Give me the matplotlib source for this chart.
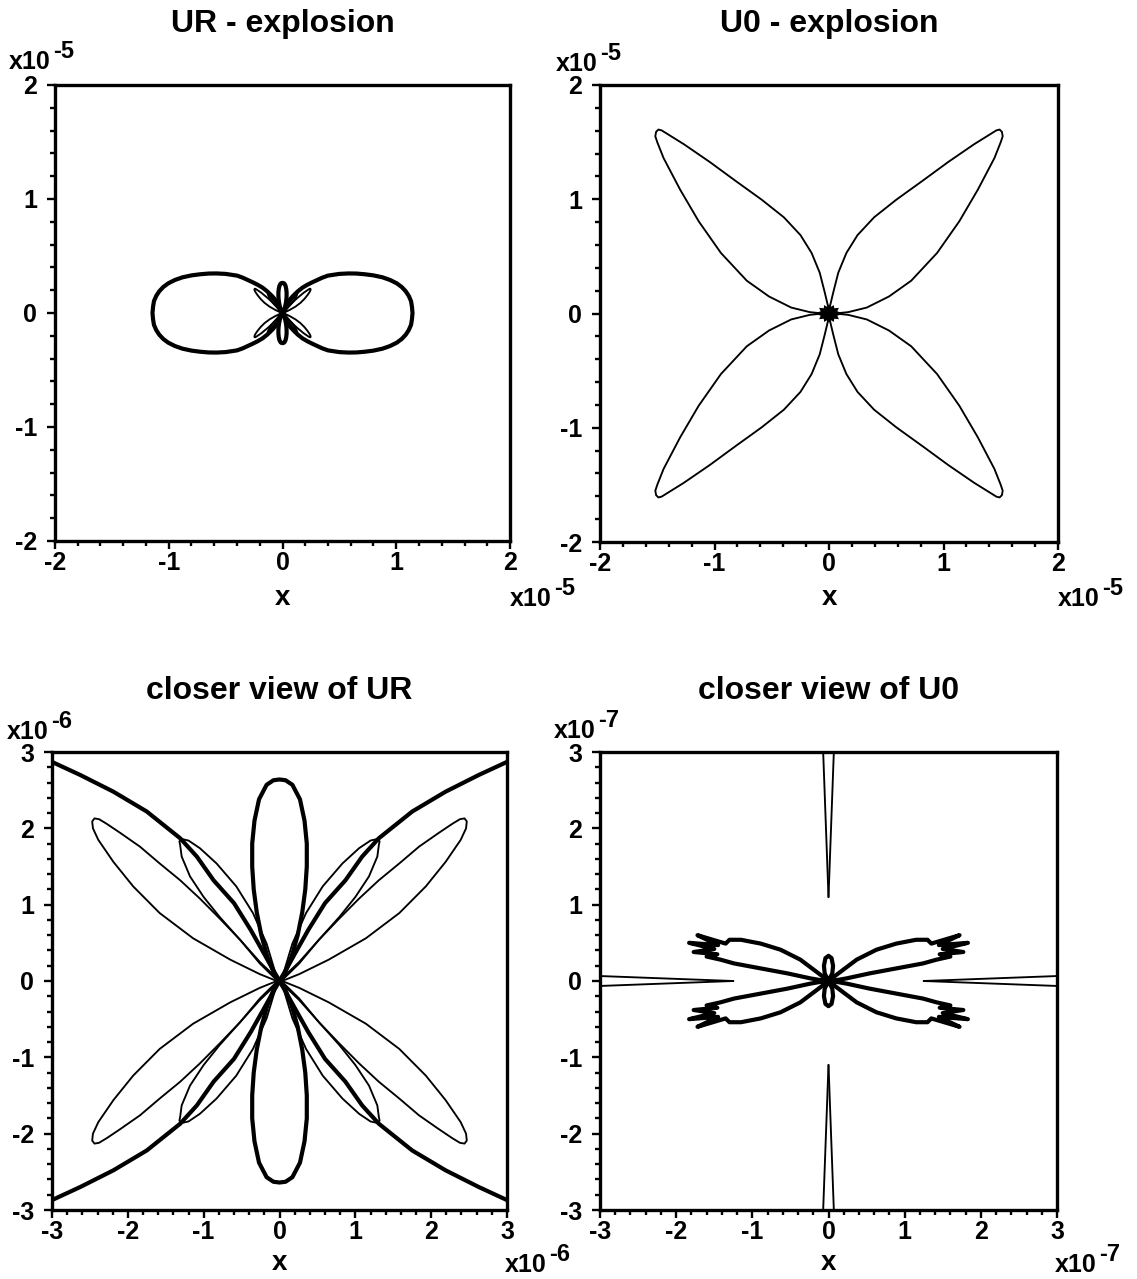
import numpy as np
import matplotlib
matplotlib.use("Agg")
import matplotlib.pyplot as plt
from matplotlib.ticker import MultipleLocator, FuncFormatter

plt.rcParams["font.family"] = ["Liberation Sans", "DejaVu Sans"]
plt.rcParams["font.weight"] = "bold"
plt.rcParams["axes.unicode_minus"] = False

FIG_W, FIG_H = 1137, 1279

# ---------------- UR component (units of 1e-6) ----------------
# thick curve: large lobe on the x axis, upper edge from the tip back to the source
ur_main_x = [11.43, 11.38, 11.30, 11.10, 10.83, 10.48, 10.05, 9.45, 8.79, 8.00,
             7.22, 6.50, 5.81, 5.00, 4.00, 3.50, 3.00, 2.63, 2.19, 1.75,
             1.31, 1.09, 0.87, 0.60, 0.38, 0.21, 0.07, 0.00]
ur_main_y = [0.00, 0.55, 1.04, 1.50, 1.91, 2.28, 2.60, 2.90, 3.13, 3.30,
             3.40, 3.46, 3.47, 3.43, 3.28, 3.10, 2.87, 2.70, 2.48, 2.22,
             1.87, 1.63, 1.32, 1.02, 0.67, 0.37, 0.12, 0.00]
# thick curve: small lobe on the y axis, right edge from the tip back to the source
ur_vert_x = [0.00, 0.08, 0.17, 0.27, 0.33, 0.36, 0.36, 0.34, 0.30, 0.24, 0.16, 0.07, 0.00]
ur_vert_y = [2.64, 2.63, 2.57, 2.38, 2.10, 1.80, 1.50, 1.20, 0.90, 0.60, 0.32, 0.10, 0.00]
# thin curve: lobe near 42 deg (first quadrant, source -> tip -> source)
ur_wide_x = [0.00, 0.06, 0.26, 0.52, 0.79, 1.05, 1.31, 1.58, 1.84, 2.10, 2.28, 2.38,
             2.44, 2.47, 2.46, 2.39, 2.19, 1.93, 1.58, 1.14, 0.65, 0.26, 0.06, 0.00]
ur_wide_y = [0.00, 0.06, 0.25, 0.54, 0.82, 1.08, 1.32, 1.54, 1.76, 1.94, 2.06, 2.12,
             2.13, 2.09, 2.00, 1.85, 1.56, 1.24, 0.89, 0.56, 0.28, 0.09, 0.01, 0.00]
# thin curve: narrow lobe near 55 deg (first quadrant, source -> tip -> source)
ur_narrow_x = [0.00, 0.04, 0.17, 0.35, 0.57, 0.83, 1.05, 1.20, 1.29, 1.32, 1.31,
               1.29, 1.18, 1.00, 0.79, 0.52, 0.26, 0.06, 0.00]
ur_narrow_y = [0.00, 0.06, 0.49, 0.89, 1.24, 1.54, 1.74, 1.84, 1.86, 1.83, 1.78,
               1.63, 1.37, 1.10, 0.84, 0.54, 0.23, 0.035, 0.00]

# ---------------- U0 component ----------------
# thin curve: diagonal lobe, units of 1e-5, from the cusp on the x axis,
# along the lower edge to the tip and back along the upper edge to the cusp on the y axis
u0_lobe_x = [0.0125, 0.030, 0.071, 0.168, 0.330, 0.524, 0.718, 0.944, 1.138, 1.300,
             1.445, 1.500, 1.517, 1.510, 1.490, 1.462, 1.268, 1.041, 0.815, 0.589,
             0.394, 0.249, 0.152, 0.081, 0.037, 0.008, 0.0007, 0.0]
u0_lobe_y = [0.0, 0.00065, 0.002, 0.012, 0.052, 0.149, 0.287, 0.530, 0.807, 1.084,
             1.361, 1.500, 1.551, 1.590, 1.610, 1.603, 1.482, 1.326, 1.160, 0.997,
             0.842, 0.686, 0.530, 0.357, 0.184, 0.062, 0.030, 0.011]
# thick curve: butterfly wing, units of 1e-7 (first quadrant, source -> tip -> source)
u0_wing_x = [0.00, 0.13, 0.37, 0.63, 0.89, 1.15, 1.30, 1.35, 1.72, 1.45, 1.83, 1.50,
             1.77, 1.46, 1.60, 1.42, 1.24, 0.89, 0.54, 0.24, 0.07, 0.00]
u0_wing_y = [0.00, 0.10, 0.28, 0.41, 0.49, 0.54, 0.54, 0.49, 0.60, 0.47, 0.50, 0.42,
             0.38, 0.35, 0.32, 0.28, 0.23, 0.165, 0.10, 0.035, 0.005, 0.00]
# thick curve: short spike on the y axis, units of 1e-7 (right edge, tip -> source)
u0_spike_x = [0.00, 0.04, 0.06, 0.05, 0.00]
u0_spike_y = [0.33, 0.30, 0.20, 0.10, 0.00]
# dark knot where the U0 lobes meet, units of 1e-5 (radius every 15 deg)
u0_knot_ang = np.arange(0, 360, 15)
u0_knot_rad = [0.13, 0.075, 0.10, 0.065, 0.085, 0.06, 0.08, 0.06, 0.085, 0.065, 0.10, 0.075,
               0.13, 0.075, 0.10, 0.065, 0.085, 0.06, 0.08, 0.06, 0.085, 0.065, 0.10, 0.075]


def quadrants(x, y):
    x = np.asarray(x, float)
    y = np.asarray(y, float)
    return [(sx * x, sy * y) for sx in (1, -1) for sy in (1, -1)]


def axis_lobes(x, y, axis):
    """Close a half outline (tip -> source) by reflecting it across its own axis,
    then repeat it on the opposite side of the source."""
    x = np.asarray(x, float)
    y = np.asarray(y, float)
    if axis == "x":
        X = np.concatenate([x[::-1], x[1:]])
        Y = np.concatenate([y[::-1], -y[1:]])
        return [(X, Y), (-X, Y)]
    X = np.concatenate([x[::-1], -x[1:]])
    Y = np.concatenate([y[::-1], y[1:]])
    return [(X, Y), (X, -Y)]


def draw(ax, pieces, scale, lw):
    for x, y in pieces:
        ax.plot(np.asarray(x) * scale, np.asarray(y) * scale, color="black", lw=lw,
                solid_joinstyle="round", solid_capstyle="round")


def px(x):
    return x / FIG_W


def py(y):
    return 1 - y / FIG_H


def make_axes(fig, box):
    l, t, r, b = box
    return fig.add_axes([px(l), py(b), (r - l) / FIG_W, (b - t) / FIG_H])


def setup(ax, lim, exp):
    unit = 10.0 ** exp
    ax.set_xlim(-lim * unit, lim * unit)
    ax.set_ylim(-lim * unit, lim * unit)
    fmt = FuncFormatter(lambda v, p: f"{int(round(v / unit))}")
    for axis in (ax.xaxis, ax.yaxis):
        axis.set_major_locator(MultipleLocator(unit))
        axis.set_minor_locator(MultipleLocator(0.2 * unit))
        axis.set_major_formatter(fmt)
    ax.tick_params(which="both", direction="out", top=False, right=False,
                   labelsize=18, width=1.7, color="black")
    ax.tick_params(which="major", length=6)
    ax.tick_params(which="minor", length=3.5)
    ax.tick_params(axis="x", pad=1)
    ax.tick_params(axis="y", pad=7)
    for s in ax.spines.values():
        s.set_linewidth(2.4)
    ax.set_xlabel("x", fontsize=20, fontweight="bold")


def power(fig, ax, x, y, exp):
    t = fig.text(px(x), py(y), "x10", fontsize=18, fontweight="bold",
                 va="baseline", ha="left")
    ax.annotate(f"-{exp}", xy=(1, 1), xycoords=t, xytext=(1.5, -1),
                textcoords="offset points", fontsize=17, fontweight="bold",
                ha="left", va="center", annotation_clip=False)


fig = plt.figure(figsize=(FIG_W / 100, FIG_H / 100), dpi=100)
fig.patch.set_facecolor("white")

boxes = {
    "A": (55, 85, 510, 541),
    "B": (600, 85, 1058, 542),
    "C": (52, 752, 507, 1210),
    "D": (600, 752, 1057, 1210),
}
titles = {
    "A": "UR - explosion",
    "B": "U0 - explosion",
    "C": "closer view of UR",
    "D": "closer view of U0",
}
limits = {"A": (2, -5), "B": (2, -5), "C": (3, -6), "D": (3, -7)}

THICK, THIN = 3.0, 1.35

ur_thick = axis_lobes(ur_main_x, ur_main_y, "x") + axis_lobes(ur_vert_x, ur_vert_y, "y")
ur_thin = quadrants(ur_wide_x, ur_wide_y) + quadrants(ur_narrow_x, ur_narrow_y)
u0_thin = quadrants(u0_lobe_x, u0_lobe_y)
u0_thick = quadrants(u0_wing_x, u0_wing_y) + axis_lobes(u0_spike_x, u0_spike_y, "y")

axes = {}
for key, box in boxes.items():
    ax = make_axes(fig, box)
    lim, exp = limits[key]
    setup(ax, lim, exp)
    axes[key] = ax
    l, t, r, b = box
    ax.xaxis.set_label_coords(0.5, (b - (598 if t < 400 else 1263)) / (b - t))
    ax.xaxis.label.set_va("center")
    fig.text(px((l + r) / 2), py(24 if t < 400 else 691), titles[key],
             fontsize=23, fontweight="bold", ha="center", va="center")

for key in ("A", "C"):
    draw(axes[key], ur_thin, 1e-6, THIN)
    draw(axes[key], ur_thick, 1e-6, THICK)

for key in ("B", "D"):
    draw(axes[key], u0_thin, 1e-5, THIN)
    draw(axes[key], u0_thick, 1e-7, THICK)

ang = np.deg2rad(u0_knot_ang)
rad = np.asarray(u0_knot_rad) * 1e-5
axes["B"].fill(rad * np.cos(ang), rad * np.sin(ang), color="black", lw=0)

# axis multipliers
power(fig, axes["A"], 9, 69, 5)
power(fig, axes["A"], 510, 606, 5)
power(fig, axes["B"], 556, 71, 5)
power(fig, axes["B"], 1058, 606, 5)
power(fig, axes["C"], 7, 739, 6)
power(fig, axes["C"], 505, 1272, 6)
power(fig, axes["D"], 554, 738, 7)
power(fig, axes["D"], 1055, 1272, 7)

fig.savefig("out.png", dpi=100, facecolor="white")
